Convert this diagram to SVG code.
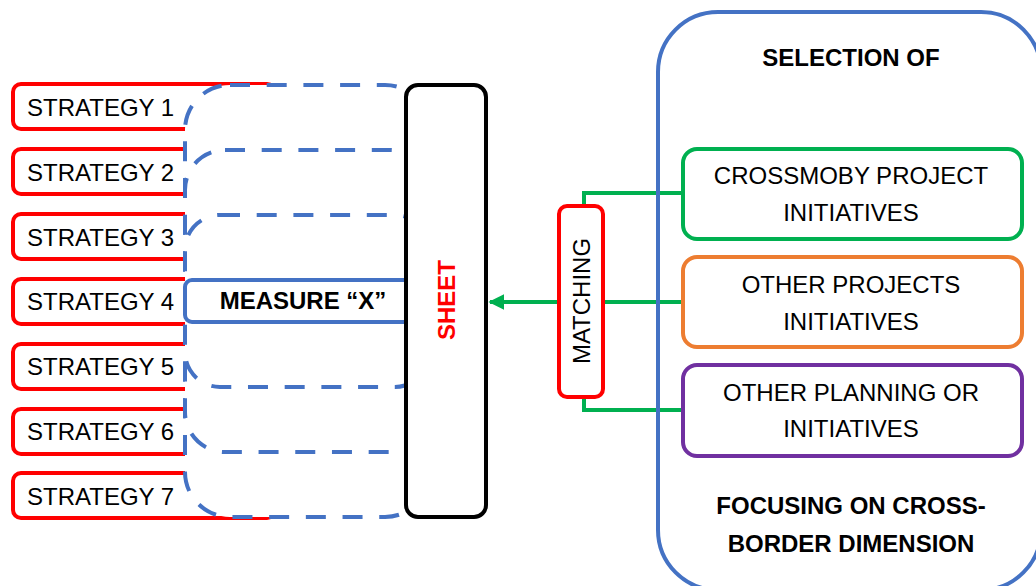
<svg xmlns="http://www.w3.org/2000/svg" width="1036" height="586" viewBox="0 0 1036 586">
<style>
text{font-family:"Liberation Sans",Arial,sans-serif;font-size:24px;fill:#000}
.b{font-weight:bold}
.strat{fill:#fff;stroke:#FF0000;stroke-width:4}
.dash{fill:#fff;stroke:#4472C4;stroke-width:4;stroke-dasharray:20 16.7}
.conn{fill:none;stroke:#00B050;stroke-width:4}
.box{fill:#fff;stroke-width:4}
</style>
<defs>
<marker id="arr" markerWidth="4" markerHeight="4" refX="3.6" refY="2" orient="auto" markerUnits="strokeWidth">
<path d="M0,0 L4,2 L0,4 Z" fill="#00B050"/>
</marker>
</defs>
<g id="strategies">
<g id="s1"><rect class="strat" x="13" y="84" width="262" height="45" rx="8"/><text x="27" y="116">STRATEGY 1</text></g>
<g id="s2"><rect class="strat" x="13" y="149" width="262" height="45" rx="8"/><text x="27" y="181">STRATEGY 2</text></g>
<g id="s3"><rect class="strat" x="13" y="214" width="262" height="45" rx="8"/><text x="27" y="246">STRATEGY 3</text></g>
<g id="s4"><rect class="strat" x="13" y="279" width="262" height="45" rx="8"/><text x="27" y="310">STRATEGY 4</text></g>
<g id="s5"><rect class="strat" x="13" y="344" width="262" height="45" rx="8"/><text x="27" y="375">STRATEGY 5</text></g>
<g id="s6"><rect class="strat" x="13" y="409" width="262" height="45" rx="8"/><text x="27" y="440">STRATEGY 6</text></g>
<g id="s7"><rect class="strat" x="13" y="473" width="262" height="45" rx="8"/><text x="27" y="505">STRATEGY 7</text></g>
</g>
<g id="layers">
<rect class="dash" x="185" y="85" width="245" height="432" rx="45"/>
<rect class="dash" x="185" y="150" width="245" height="302" rx="40"/>
<rect class="dash" x="185" y="215" width="245" height="172" rx="35"/>
</g>
<g id="measure">
<rect x="185" y="280" width="245" height="42" rx="7" fill="#fff" stroke="#4472C4" stroke-width="4"/>
<text class="b" x="303" y="309" text-anchor="middle">MEASURE “X”</text>
</g>
<g id="sheet">
<rect x="406" y="85" width="80" height="432" rx="12" fill="#fff" stroke="#000" stroke-width="4"/>
<text class="b" x="0" y="0" text-anchor="middle" transform="translate(455,300) rotate(-90)" style="fill:#FF0000">SHEET</text>
</g>
<g id="connectors">
<line class="conn" x1="559" y1="302" x2="490" y2="302" marker-end="url(#arr)"/>
<polyline class="conn" points="584,206 584,193 683,193"/>
<line class="conn" x1="603" y1="302" x2="683" y2="302"/>
<polyline class="conn" points="584,397 584,410 683,410"/>
</g>
<g id="matching">
<rect x="559" y="206" width="44" height="191" rx="8" fill="#fff" stroke="#FF0000" stroke-width="4"/>
<text x="0" y="0" text-anchor="middle" transform="translate(590,301) rotate(-90)">MATCHING</text>
</g>
<g id="selection">
<rect x="658" y="12" width="383" height="578" rx="60" fill="none" stroke="#4472C4" stroke-width="4"/>
<text class="b" x="851" y="66" text-anchor="middle">SELECTION OF</text>
<text class="b" x="851" y="514" text-anchor="middle">FOCUSING ON CROSS-</text>
<text class="b" x="851" y="552" text-anchor="middle">BORDER DIMENSION</text>
</g>
<g id="crossmoby">
<rect class="box" x="683" y="149" width="339" height="90" rx="14" stroke="#00B050"/>
<text x="851" y="184" text-anchor="middle">CROSSMOBY PROJECT</text>
<text x="851" y="221" text-anchor="middle">INITIATIVES</text>
</g>
<g id="otherprojects">
<rect class="box" x="683" y="257" width="339" height="90" rx="14" stroke="#ED7D31"/>
<text x="851" y="293" text-anchor="middle">OTHER PROJECTS</text>
<text x="851" y="330" text-anchor="middle">INITIATIVES</text>
</g>
<g id="otherplanning">
<rect class="box" x="683" y="365" width="339" height="91" rx="14" stroke="#7030A0"/>
<text x="851" y="401" text-anchor="middle">OTHER PLANNING OR</text>
<text x="851" y="437" text-anchor="middle">INITIATIVES</text>
</g>
</svg>
